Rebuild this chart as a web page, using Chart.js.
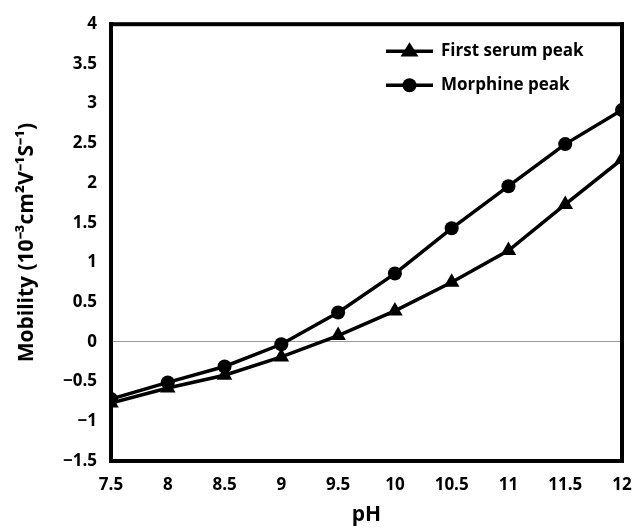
<!DOCTYPE html>
<html>
<head>
<meta charset="utf-8">
<script src="https://cdn.jsdelivr.net/npm/chart.js@4"></script>
<style>
  html, body { margin: 0; padding: 0; background: #fff; }
  #wrap { width: 636px; height: 532px; }
</style>
</head>
<body>
<div id="wrap"><canvas id="mobChart" width="636" height="532"></canvas></div>
<script>
// valores
const phValues = [7.5, 8, 8.5, 9, 9.5, 10, 10.5, 11, 11.5, 12];
const serumPeak = [-0.77, -0.58, -0.42, -0.19, 0.08, 0.39, 0.75, 1.15, 1.73, 2.30];
const morphinePeak = [-0.72, -0.51, -0.31, -0.03, 0.37, 0.86, 1.43, 1.96, 2.49, 2.92];
const seriesNames = ["First serum peak", "Morphine peak"];
const yTitle = "Mobility (10\u207B\u00B3cm\u00B2V\u207B\u00B9S\u207B\u00B9)";
const xTitle = "pH";

const FONT = "'Open Sans', 'Liberation Sans', sans-serif";

function toPoints(ys) {
    return phValues.map((x, i) => ({ x: x, y: ys[i] }));
}

// moldura (4 barras pretas) + legenda com linha e marcador
const extrasPlugin = {
    id: 'mobExtras',
    afterDraw(chart) {
        const ctx = chart.ctx;
        const a = chart.chartArea;
        const w = 4;
        ctx.save();
        ctx.fillStyle = '#000';
        ctx.fillRect(a.left - w / 2, a.top - w / 2, a.right - a.left + w, w);
        ctx.fillRect(a.left - w / 2, a.bottom - w / 2, a.right - a.left + w, w);
        ctx.fillRect(a.left - w / 2, a.top - w / 2, w, a.bottom - a.top + w);
        ctx.fillRect(a.right - w / 2, a.top - w / 2, w, a.bottom - a.top + w);

        const x0 = a.right - 236;
        chart.data.datasets.forEach((ds, i) => {
            const y = a.top + 27 + i * 34;
            ctx.strokeStyle = '#000';
            ctx.lineWidth = 3.5;
            ctx.beginPath();
            ctx.moveTo(x0, y);
            ctx.lineTo(x0 + 47, y);
            ctx.stroke();
            ctx.fillStyle = '#000';
            ctx.beginPath();
            if (ds.pointStyle === 'triangle') {
                const r = 9;
                ctx.moveTo(x0 + 23.5, y - r);
                ctx.lineTo(x0 + 23.5 + r, y + r * 0.6);
                ctx.lineTo(x0 + 23.5 - r, y + r * 0.6);
                ctx.closePath();
            } else {
                ctx.arc(x0 + 23.5, y, 7, 0, Math.PI * 2);
            }
            ctx.fill();
            ctx.font = "bold 17px " + FONT;
            ctx.textAlign = 'left';
            ctx.textBaseline = 'middle';
            ctx.fillText(ds.label, x0 + 55, y);
        });
        ctx.restore();
    }
};

const ctx = document.getElementById('mobChart').getContext('2d');
new Chart(ctx, {
    type: 'line',
    data: {
        datasets: [
            {
                label: seriesNames[0],
                data: toPoints(serumPeak),
                borderColor: '#000',
                backgroundColor: '#000',
                borderWidth: 3.5,
                pointStyle: 'triangle',
                pointRadius: 9,
                pointBorderWidth: 0,
                tension: 0
            },
            {
                label: seriesNames[1],
                data: toPoints(morphinePeak),
                borderColor: '#000',
                backgroundColor: '#000',
                borderWidth: 3.5,
                pointStyle: 'circle',
                pointRadius: 7,
                pointBorderWidth: 0,
                tension: 0
            }
        ]
    },
    options: {
        responsive: false,
        animation: false,
        maintainAspectRatio: false,
        layout: { padding: { left: 14, right: 4, top: 19, bottom: 4 } },
        plugins: {
            legend: { display: false },
            tooltip: { enabled: false }
        },
        scales: {
            x: {
                type: 'linear',
                min: 7.5,
                max: 12,
                afterFit(scale) {
                    scale.height = 67;
                    scale.paddingRight = 14;
                },
                ticks: {
                    stepSize: 0.5,
                    color: '#000',
                    padding: 14,
                    font: { family: FONT, size: 17, weight: 'bold' },
                    callback: v => String(v)
                },
                grid: { display: false, drawTicks: false },
                border: { display: true, color: '#000', width: 4 },
                title: {
                    display: true,
                    text: xTitle,
                    color: '#000',
                    padding: { top: 4, bottom: 0 },
                    font: { family: FONT, size: 21, weight: 'bold' }
                }
            },
            y: {
                min: -1.5,
                max: 4,
                afterFit(scale) { scale.width = 97; },
                ticks: {
                    stepSize: 0.5,
                    color: '#000',
                    padding: 14,
                    font: { family: FONT, size: 17, weight: 'bold' },
                    callback: v => (v < 0 ? '\u2212' + String(-v) : String(v))
                },
                grid: {
                    drawTicks: false,
                    lineWidth: 1,
                    color: c => (c.tick && c.tick.value === 0 ? '#999' : 'rgba(0,0,0,0)')
                },
                border: { display: true, color: '#000', width: 4 },
                title: {
                    display: true,
                    text: yTitle,
                    color: '#000',
                    padding: { top: 0, bottom: 4 },
                    font: { family: FONT, size: 21, weight: 'bold' }
                }
            }
        }
    },
    plugins: [extrasPlugin]
});
</script>
</body>
</html>
